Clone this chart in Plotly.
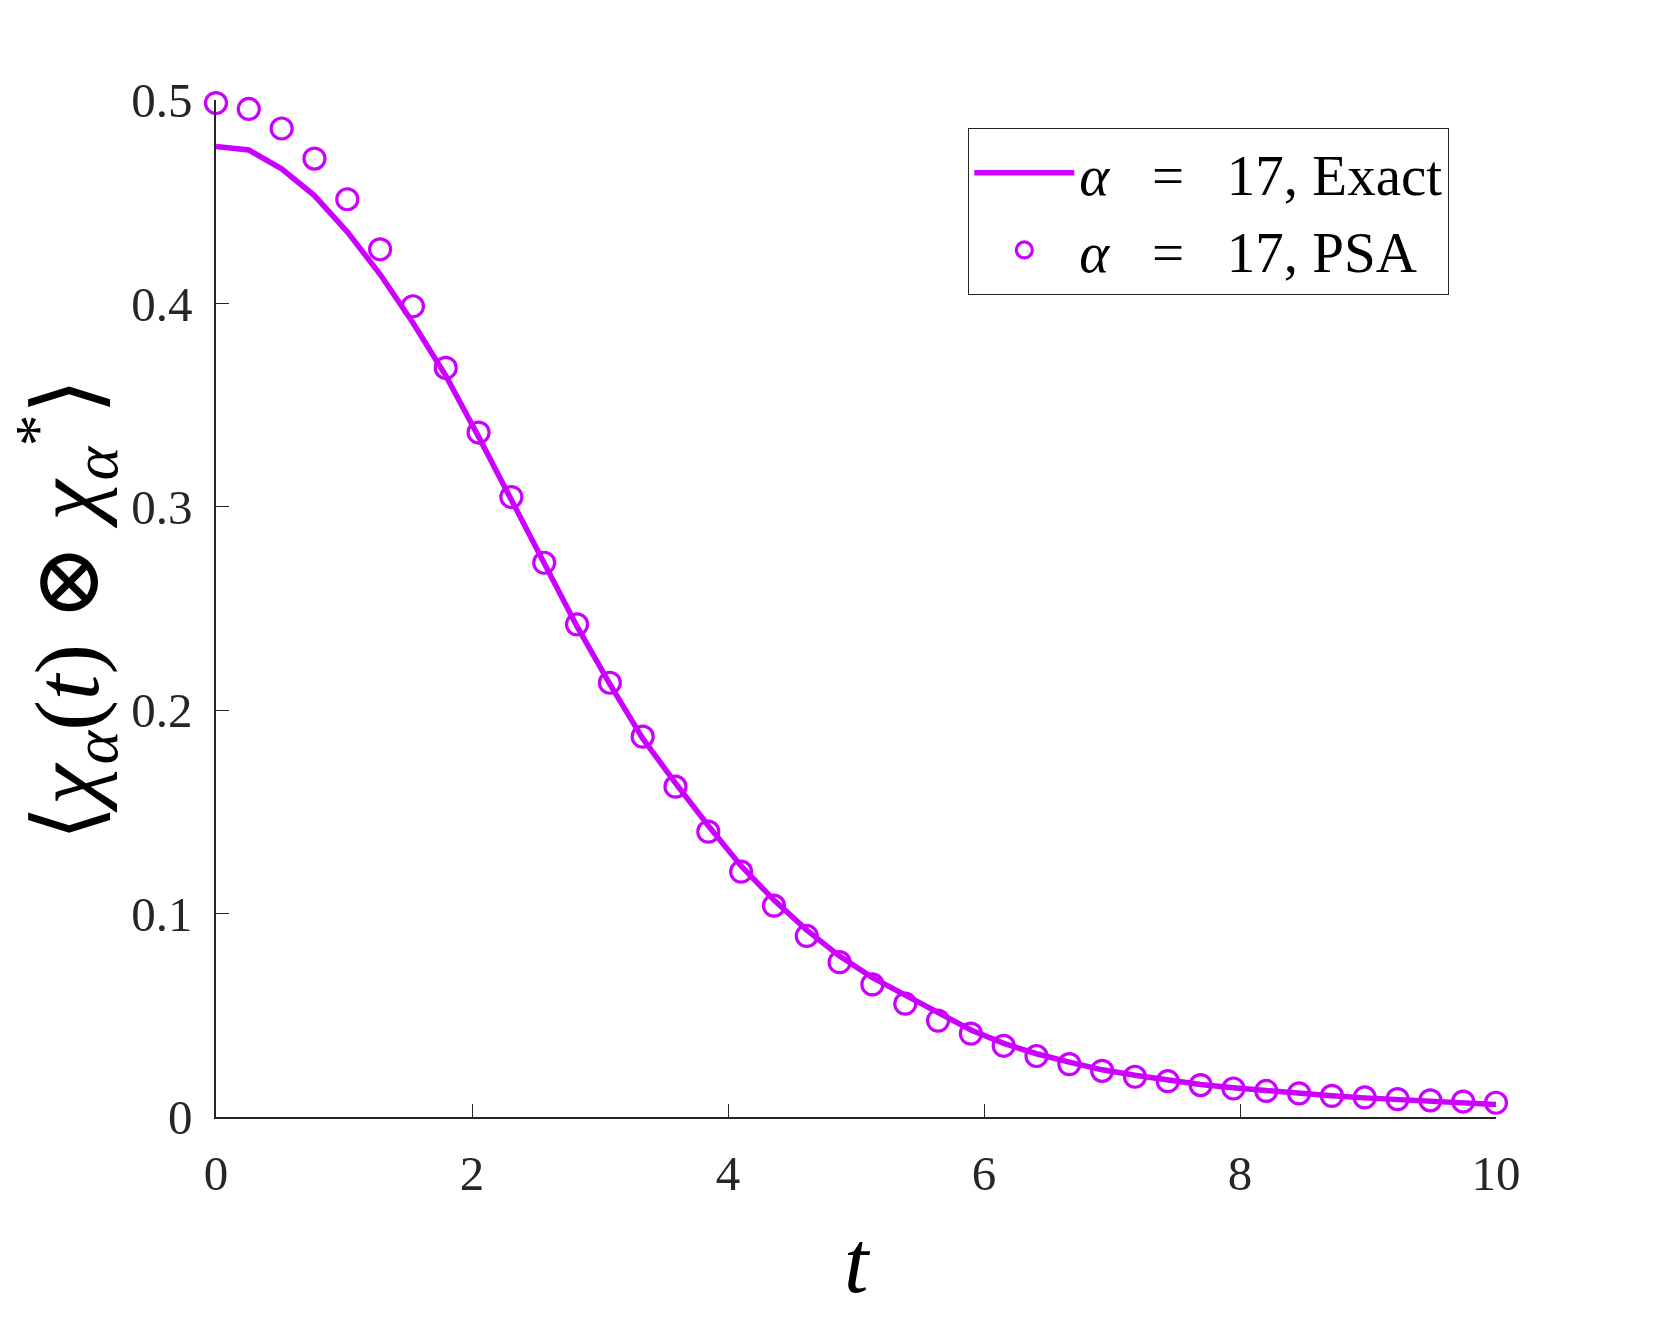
import numpy as np
import plotly.graph_objects as go

n_points = 40
t_max = 10.0
t = [t_max * i / (n_points - 1) for i in range(n_points)]

exact = [0.4772, 0.4754, 0.4662, 0.4530, 0.4352, 0.4143, 0.3905, 0.3645, 0.3345, 0.3030,
         0.2714, 0.2412, 0.2128, 0.1861, 0.1642, 0.1432, 0.1234, 0.1067, 0.0919, 0.0791,
         0.0685, 0.0600, 0.0508, 0.0428, 0.0362, 0.0311, 0.0270, 0.0232, 0.0205, 0.0180,
         0.0160, 0.0144, 0.0129, 0.0116, 0.0104, 0.0094, 0.0085, 0.0077, 0.0069, 0.0062]

psa = [0.4985, 0.4956, 0.4860, 0.4712, 0.4512, 0.4266, 0.3986, 0.3683, 0.3365, 0.3048,
       0.2725, 0.2422, 0.2135, 0.1870, 0.1624, 0.1403, 0.1206, 0.1039, 0.0890, 0.0761,
       0.0652, 0.0557, 0.0474, 0.0410, 0.0350, 0.0300, 0.0260, 0.0227, 0.0198, 0.0176,
       0.0157, 0.0140, 0.0128, 0.0116, 0.0104, 0.0096, 0.0088, 0.0082, 0.0076, 0.0070]

x_ticks = [0, 2, 4, 6, 8, 10]
y_ticks = [0, 0.1, 0.2, 0.3, 0.4, 0.5]
x_ticklabels = ["0", "2", "4", "6", "8", "10"]
y_ticklabels = ["0", "0.1", "0.2", "0.3", "0.4", "0.5"]

color = "#CC00FF"
axis_color = "#262626"
font_family = "Liberation Serif, DejaVu Serif, serif"
eq = "\u2002 =\u2002 "

fig = go.Figure()
fig.add_trace(go.Scatter(
    x=t, y=exact, mode="lines",
    line=dict(color=color, width=5.5),
    name="<i>α</i>" + eq + "17, Exact",
    cliponaxis=False,
))
fig.add_trace(go.Scatter(
    x=t, y=psa, mode="markers",
    marker=dict(symbol="circle-open", size=21, color=color, line=dict(width=3.2, color=color)),
    name="<i>α</i>" + eq + "17, PSA",
    cliponaxis=False,
))

fig.update_layout(
    width=1654, height=1329,
    margin=dict(l=216, r=158, t=100, b=212),
    paper_bgcolor="white", plot_bgcolor="white",
    font=dict(family=font_family, color="#000000"),
    showlegend=True,
    legend=dict(
        x=(968 - 216) / 1280, y=1 - (128 - 100) / 1017,
        xanchor="left", yanchor="top",
        bgcolor="white", bordercolor=axis_color, borderwidth=1.3,
        font=dict(size=57, family=font_family, color="#000000"),
        itemwidth=100,
        tracegroupgap=0,
    ),
    xaxis=dict(
        range=[0, 10], tickmode="array", tickvals=x_ticks, ticktext=x_ticklabels,
        showgrid=False, zeroline=False, showline=True, linecolor=axis_color, linewidth=1.5,
        ticks="inside", ticklen=13, tickwidth=1.3, tickcolor=axis_color,
        tickfont=dict(size=49, family=font_family, color="#262626"),
        ticklabelstandoff=12, mirror=False,
    ),
    yaxis=dict(
        range=[0, 0.5], tickmode="array", tickvals=y_ticks, ticktext=y_ticklabels,
        showgrid=False, zeroline=False, showline=True, linecolor=axis_color, linewidth=1.5,
        ticks="inside", ticklen=13, tickwidth=1.3, tickcolor=axis_color,
        tickfont=dict(size=49, family=font_family, color="#262626"),
        ticklabelstandoff=12, mirror=False,
    ),
    annotations=[
        dict(text="<i>t</i>", xref="paper", yref="paper",
             x=(857 - 216) / 1280, y=-(1262 - 1117) / 1017,
             xanchor="center", yanchor="middle", showarrow=False,
             font=dict(size=88, family=font_family, color="#000000")),
        dict(text="⟨<i>χ</i><sub><i>α</i></sub>(<i>t</i>) ⊗ <i>χ</i><sub><i>α</i></sub><sup>*</sup>⟩",
             xref="paper", yref="paper",
             x=-(216 - 66) / 1280, y=(1117 - 610) / 1017,
             xanchor="center", yanchor="middle", textangle=-90, showarrow=False,
             font=dict(size=92, family=font_family, color="#000000")),
    ],
)

fig.write_html("out.html")
